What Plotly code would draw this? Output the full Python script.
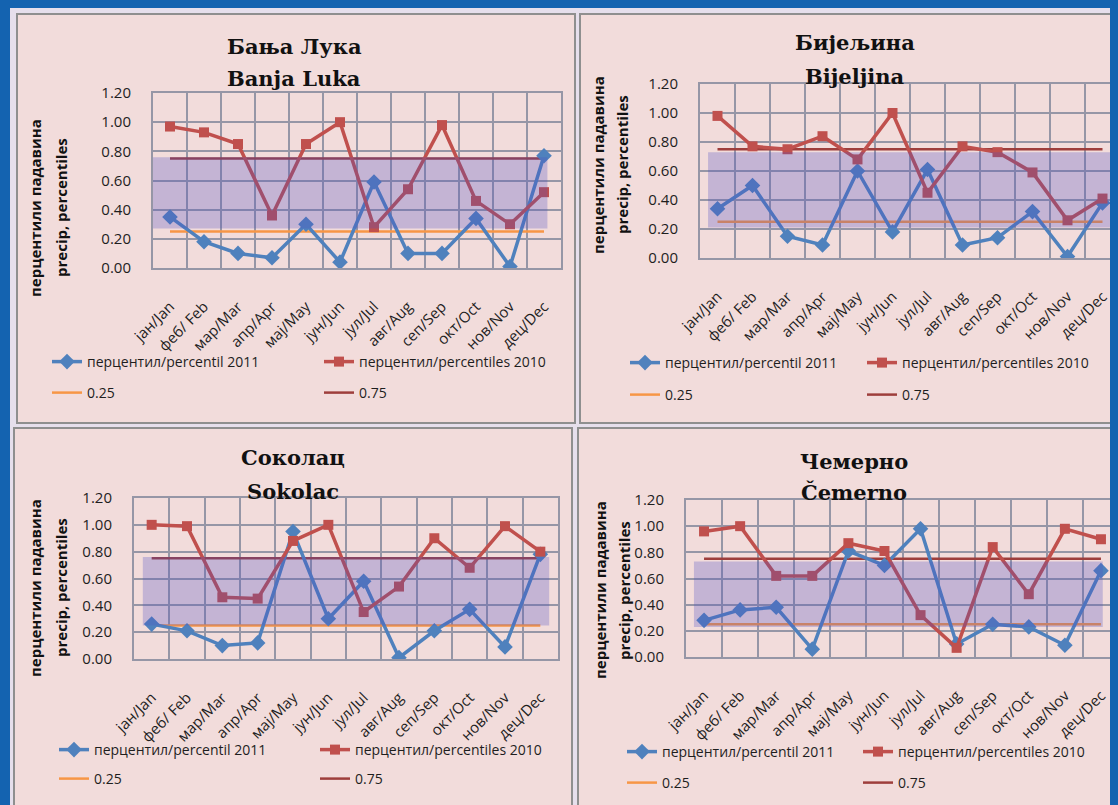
import plotly.graph_objects as go

W, H = 1118, 805

months = ["јан/Jan", "феб/ Feb", "мар/Mar", "апр/Apr", "мај/May", "јун/Jun",
          "јул/Jul", "авг/Aug", "сеп/Sep", "окт/Oct", "нов/Nov", "дец/Dec"]

# percentile values
banja_2011 = [0.35, 0.18, 0.10, 0.07, 0.30, 0.04, 0.59, 0.10, 0.10, 0.34, 0.01, 0.77]
banja_2010 = [0.97, 0.93, 0.85, 0.36, 0.85, 1.00, 0.28, 0.54, 0.98, 0.46, 0.30, 0.52]
bijel_2011 = [0.34, 0.50, 0.15, 0.09, 0.60, 0.18, 0.61, 0.09, 0.14, 0.32, 0.01, 0.38]
bijel_2010 = [0.98, 0.77, 0.75, 0.84, 0.68, 1.00, 0.45, 0.77, 0.73, 0.59, 0.26, 0.41]
sokol_2011 = [0.26, 0.21, 0.10, 0.12, 0.95, 0.30, 0.58, 0.01, 0.21, 0.37, 0.09, 0.78]
sokol_2010 = [1.00, 0.99, 0.46, 0.45, 0.88, 1.00, 0.35, 0.54, 0.90, 0.68, 0.99, 0.80]
cemer_2011 = [0.28, 0.36, 0.38, 0.06, 0.81, 0.70, 0.98, 0.10, 0.25, 0.23, 0.09, 0.66]
cemer_2010 = [0.96, 1.00, 0.62, 0.62, 0.87, 0.81, 0.32, 0.07, 0.84, 0.48, 0.98, 0.90]
p25 = [0.25] * 12
p75 = [0.75] * 12

titles_cyr = ["Бања Лука", "Бијељина", "Соколац", "Чемерно"]
titles_lat = ["Banja Luka", "Bijeljina", "Sokolac", "Čemerno"]
series_2011 = [banja_2011, bijel_2011, sokol_2011, cemer_2011]
series_2010 = [banja_2010, bijel_2010, sokol_2010, cemer_2010]
band_low = [0.27, 0.21, 0.25, 0.23]
band_high = [0.76, 0.73, 0.76, 0.73]
band_x0 = [-0.5, -0.27, -0.25, -0.28]
band_x1 = [11.1, 11.6, 11.25, 11.05]

name_2011 = "перцентил/percentil 2011"
name_2010 = "перцентил/percentiles 2010"
ytitle1 = "перцентили падавина"
ytitle2 = "precip, percentiles"

OFF = 8  # page margin of the html body
BG = "#1463b0"


def fx(x):
    return (x - OFF) / W


def fy(y):
    return 1 - (y - OFF) / H


# layout geometry (pixels, in window coordinates)
plot_boxes = [(153, 561, 93, 268), (700, 1120, 84, 258), (134, 558, 498, 659), (686, 1119, 500, 657)]
panel_boxes = [(17, 575, 14, 423), (580, 1135, 14, 423), (14, 572, 428, 820), (578, 1135, 428, 820)]
title_pos = [(294, 47, 79), (855, 43, 76), (293, 458, 491), (854, 461, 492)]
ytitle_pos = [(35, 61, 208), (598, 622, 165), (35, 61, 588), (600, 624, 590)]
legend_rows = [(362, 393), (363, 395), (750, 779), (752, 783)]
legend_cols = [(89, 361), (667, 904), (96, 357), (664, 900)]

C_2011 = "#4f81bd"
C_2010 = "#c0504d"
C_25 = "#f79646"
C_75 = "#9e3e3c"
GRID = "#9696a6"
FONT = "'Open Sans', sans-serif"

fig = go.Figure()
shapes = []
annotations = []
layout = dict(
    template="none",
    width=W, height=H,
    margin=dict(l=0, r=0, t=0, b=0, autoexpand=False),
    paper_bgcolor=BG,
    plot_bgcolor="white",
    showlegend=True,
    hovermode=False,
)

# lavender frame behind panels
shapes.append(dict(type="rect", xref="paper", yref="paper", x0=fx(10), x1=fx(1140),
                   y0=fy(8), y1=fy(830), fillcolor="#e6dfec", line=dict(width=0), layer="below"))

legend_idx = 0
for i in range(4):
    sfx = "" if i == 0 else str(i + 1)
    xa, ya = "x" + sfx, "y" + sfx
    l, r, t, b = plot_boxes[i]

    # panel background
    pl, pr, pt, pb = panel_boxes[i]
    shapes.append(dict(type="rect", xref="paper", yref="paper", x0=fx(pl), x1=fx(pr),
                       y0=fy(pt), y1=fy(pb), fillcolor="#f2dcdb",
                       line=dict(color="#8f8f8f", width=2), layer="below"))

    layout["xaxis" + sfx] = dict(
        domain=[fx(l), min(1.0, fx(r))], anchor=ya, type="category", automargin=False,
        range=[-0.5, 11.5], tickson="boundaries", showgrid=True, gridcolor=GRID, gridwidth=2,
        showline=True, linecolor=GRID, linewidth=2, mirror=True, ticks="",
        tickangle=-45, tickfont=dict(family=FONT, size=15, color="#1e1e1e"),
        ticklabelstandoff=22, zeroline=False, fixedrange=True,
    )
    layout["yaxis" + sfx] = dict(
        domain=[fy(b), fy(t)], anchor=xa, range=[0, 1.2], dtick=0.2, tickformat=".2f",
        automargin=False,
        showgrid=True, gridcolor=GRID, gridwidth=2, showline=True, linecolor=GRID,
        linewidth=2, mirror=True, ticks="", zeroline=False,
        tickfont=dict(family=FONT, size=15, color="#1e1e1e"), ticklabelstandoff=17,
        fixedrange=True,
    )

    traces = [
        dict(y=p25, name="0.25", mode="lines", line=dict(color=C_25, width=2.5)),
        dict(y=p75, name="0.75", mode="lines", line=dict(color=C_75, width=2.5)),
        dict(y=series_2011[i], name=name_2011, mode="lines+markers",
             line=dict(color=C_2011, width=3.5), marker=dict(symbol="diamond", size=12, color=C_2011)),
        dict(y=series_2010[i], name=name_2010, mode="lines+markers",
             line=dict(color=C_2010, width=3.5), marker=dict(symbol="square", size=10, color=C_2010)),
    ]
    row_of = [1, 1, 0, 0]
    col_of = [0, 1, 0, 1]
    for k, tr in enumerate(traces):
        legend_idx += 1
        lname = "legend" if legend_idx == 1 else "legend" + str(legend_idx)
        fig.add_trace(go.Scatter(x=months, xaxis=xa, yaxis=ya, legend=lname, **tr))
        tx = legend_cols[i][col_of[k]]
        ty = legend_rows[i][row_of[k]]
        layout[lname] = dict(
            x=fx(tx - 42), y=fy(ty), xanchor="left", yanchor="middle",
            bgcolor="rgba(0,0,0,0)", borderwidth=0,
            font=dict(family=FONT, size=14, color="#1e1e1e"),
        )

    # shaded band (drawn over the lines)
    shapes.append(dict(type="rect", xref=xa, yref=ya, x0=band_x0[i], x1=band_x1[i],
                       y0=band_low[i], y1=band_high[i], fillcolor="rgba(80,80,195,0.28)",
                       line=dict(width=0), layer="above"))

    cx, y1, y2 = title_pos[i]
    for txt, yy in ((titles_cyr[i], y1), (titles_lat[i], y2)):
        annotations.append(dict(text="<b>" + txt + "</b>", x=fx(cx), y=fy(yy), xref="paper", yref="paper",
                                xanchor="center", yanchor="middle", showarrow=False,
                                font=dict(family="'DejaVu Serif', serif", size=21, color="#111111")))
    ax1, ax2, ayc = ytitle_pos[i]
    for txt, xx in ((ytitle1, ax1), (ytitle2, ax2)):
        annotations.append(dict(text="<b>" + txt + "</b>", x=fx(xx), y=fy(ayc), xref="paper", yref="paper",
                                xanchor="center", yanchor="middle", showarrow=False, textangle=-90,
                                font=dict(family=FONT, size=15, color="#111111")))

layout["shapes"] = shapes
layout["annotations"] = annotations
fig.update_layout(**layout)
fig.write_html("out.html", post_script="document.body.style.background='" + BG + "';")
